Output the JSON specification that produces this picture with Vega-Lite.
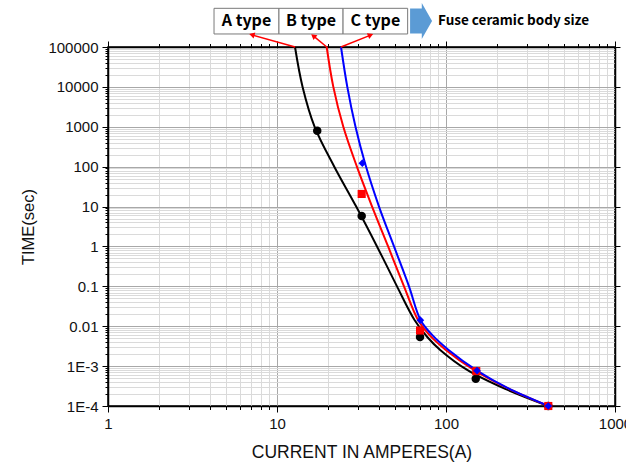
{
  "$schema": "https://vega.github.io/schema/vega-lite/v6.json",
  "autosize": {"type": "none"},
  "padding": {"left": 108, "top": 47, "right": 11, "bottom": 58},
  "width": 507,
  "height": 359,
  "background": "white",
  "config": {
    "view": {"stroke": "black", "strokeWidth": 1.5},
    "axis": {"labelFont": "Liberation Sans", "titleFont": "Liberation Sans", "labelColor": "#111", "titleColor": "#111", "domainColor": "black", "tickColor": "black", "domainWidth": 1.5, "tickWidth": 1}
  },
  "datasets": {
    "curves": [
      {"s": "A", "x": 12.78, "y": 100000}, {"s": "A", "x": 14.17, "y": 10000}, {"s": "A", "x": 16.70, "y": 1000}, {"s": "A", "x": 21.83, "y": 100}, {"s": "A", "x": 29.42, "y": 10}, {"s": "A", "x": 39.06, "y": 1}, {"s": "A", "x": 51.29, "y": 0.1}, {"s": "A", "x": 65.12, "y": 0.01438}, {"s": "A", "x": 77.72, "y": 0.0053}, {"s": "A", "x": 92.4, "y": 0.002547}, {"s": "A", "x": 133.5, "y": 0.000803}, {"s": "A", "x": 224, "y": 0.000268}, {"s": "A", "x": 403, "y": 0.0001},
      {"s": "B", "x": 19.68, "y": 100000}, {"s": "B", "x": 21.54, "y": 10000}, {"s": "B", "x": 24.68, "y": 1000}, {"s": "B", "x": 29.70, "y": 100}, {"s": "B", "x": 36.53, "y": 10}, {"s": "B", "x": 45.44, "y": 1}, {"s": "B", "x": 56.42, "y": 0.1}, {"s": "B", "x": 68.3, "y": 0.01438}, {"s": "B", "x": 79.65, "y": 0.006053}, {"s": "B", "x": 99.73, "y": 0.002547}, {"s": "B", "x": 146.1, "y": 0.000803}, {"s": "B", "x": 229.9, "y": 0.000284}, {"s": "B", "x": 403, "y": 0.0001},
      {"s": "C", "x": 23.92, "y": 100000}, {"s": "C", "x": 26.06, "y": 10000}, {"s": "C", "x": 29.14, "y": 1000}, {"s": "C", "x": 33.18, "y": 121.7}, {"s": "C", "x": 40.14, "y": 10}, {"s": "C", "x": 49.24, "y": 1}, {"s": "C", "x": 60.39, "y": 0.1}, {"s": "C", "x": 70.66, "y": 0.01438}, {"s": "C", "x": 82.75, "y": 0.006053}, {"s": "C", "x": 103.6, "y": 0.002547}, {"s": "C", "x": 152.6, "y": 0.000772}, {"s": "C", "x": 230.8, "y": 0.000284}, {"s": "C", "x": 403, "y": 0.0001}
    ],
    "points": [
      {"s": "A", "x": 17.3, "y": 800}, {"s": "A", "x": 31.7, "y": 5.8}, {"s": "A", "x": 70.2, "y": 0.0054}, {"s": "A", "x": 150, "y": 0.00048}, {"s": "A", "x": 403, "y": 0.0001},
      {"s": "B", "x": 31.7, "y": 20.7}, {"s": "B", "x": 70.2, "y": 0.0078}, {"s": "B", "x": 151, "y": 0.00075}, {"s": "B", "x": 403, "y": 0.0001},
      {"s": "C", "x": 32, "y": 122}, {"s": "C", "x": 70.5, "y": 0.0142}, {"s": "C", "x": 152.6, "y": 0.00077}, {"s": "C", "x": 403, "y": 0.0001}
    ],
    "cells": [
      {"label": "A type", "x0": 4.24, "x1": 10.27, "xc": 6.6, "y0": 212000, "y1": 933000, "yc": 449000},
      {"label": "B type", "x0": 10.27, "x1": 24.6, "xc": 15.9, "y0": 212000, "y1": 933000, "yc": 449000},
      {"label": "C type", "x0": 24.6, "x1": 59.3, "xc": 38.2, "y0": 212000, "y1": 933000, "yc": 449000}
    ],
    "arrows": [
      {"k": "A", "x": 12.8, "y": 100000, "hx": 7.1, "hy": 202000},
      {"k": "B", "x": 19.7, "y": 100000, "hx": 16.4, "hy": 190000},
      {"k": "C", "x": 23.9, "y": 100000, "hx": 35.8, "hy": 199000}
    ],
    "note": [
      {"ax": 71.2, "tx": 89.7, "y": 449000, "text": "Fuse ceramic body size"}
    ]
  },
  "resolve": {"axis": {"x": "independent", "y": "independent"}},
  "layer": [
    {
      "data": {"name": "curves"},
      "mark": {"type": "line", "strokeWidth": 2, "interpolate": "catmull-rom"},
      "encoding": {
        "x": {"field": "x", "type": "quantitative",
          "scale": {"type": "log", "domain": [1, 1000], "nice": false},
          "axis": {
            "orient": "bottom",
            "title": "CURRENT IN AMPERES(A)",
            "titleFontSize": 17.5, "titleFontWeight": "normal", "titlePadding": 12,
            "labelFontSize": 15, "labelPadding": 4, "labelOverlap": false, "labelBound": false, "labelFlush": false,
            "values": [1,2,3,4,5,6,7,8,9,10,20,30,40,50,60,70,80,90,100,200,300,400,500,600,700,800,900,1000],
            "labelExpr": "abs(log(datum.value)/LN10 - round(log(datum.value)/LN10)) < 0.001 ? '' + datum.value : ''",
            "tickSize": {"condition": {"test": "abs(log(datum.value)/LN10 - round(log(datum.value)/LN10)) < 0.001", "value": 6}, "value": 3.5},
            "grid": true,
            "gridColor": {"condition": {"test": "abs(log(datum.value)/LN10 - round(log(datum.value)/LN10)) < 0.001", "value": "#a8a8a8"}, "value": "#dadada"},
            "gridWidth": 1
          }
        },
        "y": {"field": "y", "type": "quantitative",
          "scale": {"type": "log", "domain": [0.0001, 100000], "nice": false},
          "axis": {
            "orient": "left",
            "title": "TIME(sec)",
            "titleFontSize": 16.5, "titleFontWeight": "normal", "titlePadding": 11,
            "labelFontSize": 15, "labelPadding": 4, "labelOverlap": false, "labelBound": false, "labelFlush": false,
            "values": [0.0001,0.0002,0.0003,0.0004,0.0005,0.0006,0.0007,0.0008,0.0009,0.001,0.002,0.003,0.004,0.005,0.006,0.007,0.008,0.009,0.01,0.02,0.03,0.04,0.05,0.06,0.07,0.08,0.09,0.1,0.2,0.3,0.4,0.5,0.6,0.7,0.8,0.9,1,2,3,4,5,6,7,8,9,10,20,30,40,50,60,70,80,90,100,200,300,400,500,600,700,800,900,1000,2000,3000,4000,5000,6000,7000,8000,9000,10000,20000,30000,40000,50000,60000,70000,80000,90000,100000],
            "labelExpr": "abs(log(datum.value)/LN10 - round(log(datum.value)/LN10)) < 0.001 ? (datum.value < 0.005 ? '1E' + round(log(datum.value)/LN10) : '' + datum.value) : ''",
            "tickSize": {"condition": {"test": "abs(log(datum.value)/LN10 - round(log(datum.value)/LN10)) < 0.001", "value": 6}, "value": 3},
            "grid": true,
            "gridColor": {"condition": {"test": "abs(log(datum.value)/LN10 - round(log(datum.value)/LN10)) < 0.001", "value": "#a8a8a8"}, "value": "#dadada"},
            "gridWidth": 1
          }
        },
        "color": {"field": "s", "type": "nominal", "scale": {"domain": ["A", "B", "C"], "range": ["#000000", "#ff0000", "#0000ff"]}, "legend": null}
      }
    },
    {
      "data": {"name": "points"},
      "mark": {"type": "point", "filled": true, "opacity": 1},
      "encoding": {
        "x": {"field": "x", "type": "quantitative", "scale": {"type": "log", "domain": [1, 1000], "nice": false},
          "axis": {"orient": "top", "title": null, "labels": false, "grid": false,
            "values": [1,2,3,4,5,6,7,8,9,10,20,30,40,50,60,70,80,90,100,200,300,400,500,600,700,800,900,1000],
            "tickSize": {"condition": {"test": "abs(log(datum.value)/LN10 - round(log(datum.value)/LN10)) < 0.001", "value": 6}, "value": 3.5}}},
        "y": {"field": "y", "type": "quantitative", "scale": {"type": "log", "domain": [0.0001, 100000], "nice": false},
          "axis": {"orient": "right", "title": null, "labels": false, "grid": false,
            "values": [0.0001,0.001,0.01,0.1,1,10,100,1000,10000,100000], "tickSize": 5}},
        "color": {"field": "s", "type": "nominal", "scale": {"domain": ["A", "B", "C"], "range": ["#000000", "#ff0000", "#0000ff"]}, "legend": null},
        "shape": {"field": "s", "type": "nominal", "scale": {"domain": ["A", "B", "C"], "range": ["circle", "square", "diamond"]}, "legend": null},
        "size": {"field": "s", "type": "nominal", "scale": {"domain": ["A", "B", "C"], "range": [72, 60, 140]}, "legend": null}
      }
    },
    {
      "data": {"name": "cells"},
      "mark": {"type": "rect", "fill": "white", "stroke": "#7a7a7a", "strokeWidth": 1},
      "encoding": {
        "x": {"field": "x0", "type": "quantitative", "scale": {"type": "log", "domain": [1, 1000], "nice": false}, "axis": null},
        "x2": {"field": "x1"},
        "y": {"field": "y0", "type": "quantitative", "scale": {"type": "log", "domain": [0.0001, 100000], "nice": false}, "axis": null},
        "y2": {"field": "y1"}
      }
    },
    {
      "data": {"name": "cells"},
      "mark": {"type": "text", "font": "Noto Sans CJK KR", "fontWeight": "bold", "fontSize": 16, "color": "black", "align": "center", "baseline": "middle"},
      "encoding": {
        "x": {"field": "xc", "type": "quantitative", "scale": {"type": "log", "domain": [1, 1000], "nice": false}, "axis": null},
        "y": {"field": "yc", "type": "quantitative", "scale": {"type": "log", "domain": [0.0001, 100000], "nice": false}, "axis": null},
        "text": {"field": "label"}
      }
    },
    {
      "data": {"name": "arrows"},
      "mark": {"type": "rule", "color": "#ff0000", "strokeWidth": 1.5},
      "encoding": {
        "x": {"field": "x", "type": "quantitative", "scale": {"type": "log", "domain": [1, 1000], "nice": false}, "axis": null},
        "y": {"field": "y", "type": "quantitative", "scale": {"type": "log", "domain": [0.0001, 100000], "nice": false}, "axis": null},
        "x2": {"field": "hx"},
        "y2": {"field": "hy"}
      }
    },
    {
      "data": {"name": "arrows"},
      "transform": [{"filter": "datum.k === 'A'"}],
      "mark": {"type": "point", "shape": "triangle-up", "filled": true, "color": "#ff0000", "size": 40, "angle": 286, "opacity": 1},
      "encoding": {
        "x": {"field": "hx", "type": "quantitative", "scale": {"type": "log", "domain": [1, 1000], "nice": false}, "axis": null},
        "y": {"field": "hy", "type": "quantitative", "scale": {"type": "log", "domain": [0.0001, 100000], "nice": false}, "axis": null}
      }
    },
    {
      "data": {"name": "arrows"},
      "transform": [{"filter": "datum.k === 'B'"}],
      "mark": {"type": "point", "shape": "triangle-up", "filled": true, "color": "#ff0000", "size": 40, "angle": 309, "opacity": 1},
      "encoding": {
        "x": {"field": "hx", "type": "quantitative", "scale": {"type": "log", "domain": [1, 1000], "nice": false}, "axis": null},
        "y": {"field": "hy", "type": "quantitative", "scale": {"type": "log", "domain": [0.0001, 100000], "nice": false}, "axis": null}
      }
    },
    {
      "data": {"name": "arrows"},
      "transform": [{"filter": "datum.k === 'C'"}],
      "mark": {"type": "point", "shape": "triangle-up", "filled": true, "color": "#ff0000", "size": 40, "angle": 68, "opacity": 1},
      "encoding": {
        "x": {"field": "hx", "type": "quantitative", "scale": {"type": "log", "domain": [1, 1000], "nice": false}, "axis": null},
        "y": {"field": "hy", "type": "quantitative", "scale": {"type": "log", "domain": [0.0001, 100000], "nice": false}, "axis": null}
      }
    },
    {
      "data": {"name": "note"},
      "mark": {"type": "point", "shape": "M-0.61,-0.69L0.04,-0.69L0.04,-1L0.61,0L0.04,1L0.04,0.69L-0.61,0.69Z", "filled": true, "color": "#5b9bd5", "size": 1296, "opacity": 1},
      "encoding": {
        "x": {"field": "ax", "type": "quantitative", "scale": {"type": "log", "domain": [1, 1000], "nice": false}, "axis": null},
        "y": {"field": "y", "type": "quantitative", "scale": {"type": "log", "domain": [0.0001, 100000], "nice": false}, "axis": null}
      }
    },
    {
      "data": {"name": "note"},
      "mark": {"type": "text", "font": "Noto Sans CJK KR", "fontWeight": "bold", "fontSize": 13.5, "color": "black", "align": "left", "baseline": "middle"},
      "encoding": {
        "x": {"field": "tx", "type": "quantitative", "scale": {"type": "log", "domain": [1, 1000], "nice": false}, "axis": null},
        "y": {"field": "y", "type": "quantitative", "scale": {"type": "log", "domain": [0.0001, 100000], "nice": false}, "axis": null},
        "text": {"field": "text"}
      }
    }
  ]
}
